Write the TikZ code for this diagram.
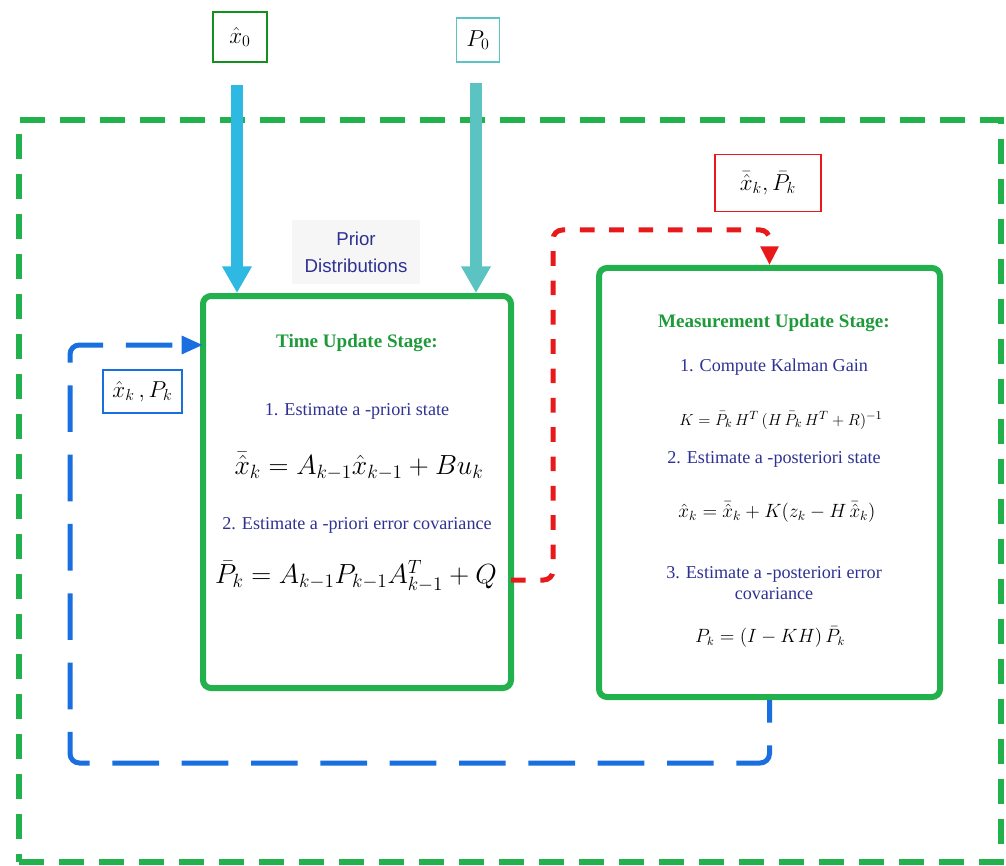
\documentclass[tikz,border=0pt]{standalone}
\usepackage{fontspec}
\setmainfont{Liberation Serif}
\setsansfont{Liberation Sans}
\usetikzlibrary{arrows.meta}
\definecolor{kgreen}{HTML}{22B14C}
\definecolor{tgreen}{HTML}{1E9A3A}
\definecolor{dgreen}{HTML}{14901E}
\definecolor{tblue}{HTML}{2E3192}
\definecolor{kcyan}{HTML}{2DB9E1}
\definecolor{kteal}{HTML}{5BC4C2}
\definecolor{kred}{HTML}{E8191A}
\definecolor{kblue}{HTML}{1A6FE0}
\definecolor{pgray}{HTML}{F6F6F6}
\tikzset{
  stagebox/.style={draw=kgreen, line width=4.5pt, rounded corners=6pt, inner sep=0pt},
  title/.style={text=tgreen, font=\bfseries\fontsize{14.3}{17}\selectfont},
  steptext/.style={text=tblue, font=\fontsize{13.6}{16}\selectfont, align=center},
  mathbig/.style={font=\fontsize{21}{24}\selectfont},
  mathsmall/.style={font=\fontsize{13}{16}\selectfont},
  lbl/.style={draw, line width=1.2pt, inner sep=0pt, font=\fontsize{18}{20}\selectfont},
  bigarrow/.style={line width=8.5pt, -{Triangle[length=20pt,width=21pt]}},
}
\begin{document}
\begin{tikzpicture}[x=0.75pt,y=-0.75pt]
\useasboundingbox (0,0) rectangle (1006,866);
% outer dashed frame
\node[draw=kgreen, line width=4.5pt, dash pattern=on 19pt off 11pt, minimum width=736.5pt, minimum height=556.5pt, inner sep=0pt] (frame) at (510,491) {};
% top labels
\node[lbl, draw=dgreen, minimum width=40.5pt, minimum height=37.5pt] (x0) at (240,37) {$\hat{x}_0$};
\node[lbl, draw=kteal, minimum width=32pt, minimum height=33pt] (p0) at (478,40) {$P_0$};
% prior distributions
\node[fill=pgray, text=tblue, font=\sffamily\fontsize{14}{20}\selectfont, align=center, minimum width=96pt, minimum height=48pt] (prior) at (356,252) {Prior\\Distributions};
% stage boxes
\node[stagebox, minimum width=231pt, minimum height=294pt] (tu) at (357,492) {};
\node[stagebox, minimum width=255.75pt, minimum height=321.75pt] (mu) at (769.5,482.5) {};
% time update contents
\node[title] (tut) at (357,343) {Time Update Stage:};
\node[steptext] (tu1) at (357,411) {1. Estimate a -priori state};
\node[mathbig] (tue1) at (359,466) {$\bar{\hat{x}}_k = A_{k-1}\hat{x}_{k-1} + Bu_k$};
\node[steptext] (tu2) at (357,525) {2. Estimate a -priori error covariance};
\node[mathbig, font=\fontsize{22}{25}\selectfont] (tue2) at (356,576) {$\bar{P}_k = A_{k-1}P_{k-1}A_{k-1}^T + Q$};
% measurement update contents
\node[title] (mut) at (774,323) {Measurement Update Stage:};
\node[steptext] (mu1) at (774,367) {1. Compute Kalman Gain};
\node[mathsmall] (mue1) at (781,420) {$K = \bar{P}_k\, H^T\, (H\,\bar{P}_k\, H^T + R)^{-1}$};
\node[mathsmall, font=\fontsize{14.4}{17}\selectfont] (mue2) at (777,512) {$\hat{x}_k = \bar{\hat{x}}_k + K(z_k - H\,\bar{\hat{x}}_k)$};
\node[steptext] (mu2) at (774,459) {2. Estimate a -posteriori state};
\node[steptext] (mu3) at (774,583) {3. Estimate a -posteriori error\\covariance};
\node[mathsmall, font=\fontsize{13.4}{16}\selectfont] (mue3) at (770,637) {$P_k = (I - KH)\,\bar{P}_k$};
% red label
\node[lbl, draw=kred, minimum width=79.5pt, minimum height=42.75pt] (rl) at (768,183) {$\bar{\hat{x}}_k, \bar{P}_k$};
% blue label
\node[lbl, draw=kblue, minimum width=59.25pt, minimum height=32.25pt] (bl) at (142.5,391.5) {$\hat{x}_k\,, P_k$};
% top arrows
\draw[bigarrow, kcyan] ([xshift=-2.25pt,yshift=-16.5pt]x0.south) -- ([xshift=-2.25pt]x0.south |- tu.north);
\draw[bigarrow, kteal] ([xshift=-1.5pt,yshift=-15pt]p0.south) -- ([xshift=-1.5pt]p0.south |- tu.north);
% red dashed connector
\coordinate (r1) at (511,580);
\coordinate (rbend) at (553,230);
\draw[kred, line width=3.75pt, dash pattern=on 11pt off 11pt, dash phase=0pt, rounded corners=7pt, -{Triangle[length=14pt,width=13pt]}] (r1) -| (rbend) -| (mu.north);
% blue dashed feedback
\coordinate (b1) at (70,763);
\coordinate (bin) at (203,345);
\draw[kblue, line width=3.75pt, dash pattern=on 35pt off 17pt, dash phase=18pt, rounded corners=7pt, -{Triangle[length=16pt,width=13pt]}] (mu.south) |- (b1) |- (bin);
\end{tikzpicture}
\end{document}
